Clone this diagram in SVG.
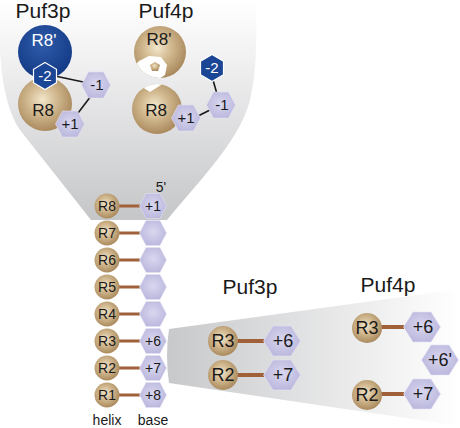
<svg xmlns="http://www.w3.org/2000/svg" width="460" height="428" viewBox="0 0 460 428">
<style>
text{font-family:"Liberation Sans",Arial,sans-serif;fill:#1a1a1a;text-anchor:middle}
.t{font-size:21px}
.s{font-size:14px}
.h{font-size:15px}
.m{font-size:17px}
.l{font-size:18px}
.w{fill:#ffffff}
.tan{fill:url(#gTan)}
.hex{fill:url(#gHex);stroke:#e4e2f3;stroke-width:0.6}
.bhex{fill:#1b4696;stroke:#ffffff;stroke-width:1.2}
.bond{stroke:#a0603a;stroke-width:3;fill:none}
.bondL{stroke:#a0603a;stroke-width:4;fill:none}
.link{stroke:#1a1a1a;stroke-width:1.6;fill:none}
</style>
<defs>
<linearGradient id="gFunnel" gradientUnits="userSpaceOnUse" x1="0" y1="0" x2="0" y2="220">
<stop offset="0" stop-color="#ffffff"/>
<stop offset="0.25" stop-color="#f2f2f3"/>
<stop offset="1" stop-color="#c5c6c8"/>
</linearGradient>
<linearGradient id="gWedge" gradientUnits="userSpaceOnUse" x1="169" y1="0" x2="460" y2="0">
<stop offset="0" stop-color="#c8c9cb"/>
<stop offset="1" stop-color="#ffffff"/>
</linearGradient>
<radialGradient id="gTan" cx="0.45" cy="0.42" r="0.6">
<stop offset="0" stop-color="#f2e7cc"/>
<stop offset="0.4" stop-color="#d5bd95"/>
<stop offset="1" stop-color="#a8875a"/>
</radialGradient>
<radialGradient id="gBlue" cx="0.45" cy="0.35" r="0.65">
<stop offset="0" stop-color="#2f5caa"/>
<stop offset="1" stop-color="#133a85"/>
</radialGradient>
<radialGradient id="gHex" cx="0.5" cy="0.45" r="0.6">
<stop offset="0" stop-color="#d9d7ef"/>
<stop offset="1" stop-color="#b8b5dc"/>
</radialGradient>
<polygon id="hx" points="13.5,0 7,12.5 -7,12.5 -13.5,0 -7,-12.5 7,-12.5"/>
<polygon id="hxT" points="14.5,0 7.5,13 -7.5,13 -14.5,0 -7.5,-13 7.5,-13"/>
<polygon id="hxL" points="18.5,0 9,15 -9,15 -18.5,0 -9,-15 9,-15"/>
<polygon id="hxB" points="0,-13.5 11.5,-6.7 11.5,6.7 0,13.5 -11.5,6.7 -11.5,-6.7"/>
<clipPath id="cR8p"><circle cx="160" cy="52" r="26"/></clipPath>
<clipPath id="cR8"><circle cx="157" cy="109" r="25"/></clipPath>
</defs>

<g id="backgrounds">
<path d="M0,0 L0,50 C2,90 10,115 20,130 L91,220 L167,220 C200,180 240,140 250,100 C256,75 257,45 256,0 Z" fill="url(#gFunnel)"/>
<path d="M169,329 L460,289 L460,426 L169,383 Q165,356 169,329 Z" fill="url(#gWedge)"/>
</g>

<g id="titles">
<text class="t" x="43" y="18">Puf3p</text>
<text class="t" x="166" y="18">Puf4p</text>
<text class="t" x="250" y="294">Puf3p</text>
<text class="t" x="388" y="292">Puf4p</text>
</g>

<g id="connectors">
<line class="link" x1="55" y1="76" x2="88" y2="83"/>
<line class="link" x1="91" y1="96" x2="75" y2="117"/>
<line class="link" x1="213" y1="80" x2="217" y2="94"/>
<line class="link" x1="198" y1="116" x2="210" y2="110"/>
<g id="column-bonds">
<line class="bond" x1="119" y1="206" x2="140" y2="206"/>
<line class="bond" x1="119" y1="233" x2="140" y2="233"/>
<line class="bond" x1="119" y1="260" x2="140" y2="260"/>
<line class="bond" x1="119" y1="287" x2="140" y2="287"/>
<line class="bond" x1="119" y1="314" x2="140" y2="314"/>
<line class="bond" x1="119" y1="341" x2="140" y2="341"/>
<line class="bond" x1="119" y1="368" x2="140" y2="368"/>
<line class="bond" x1="119" y1="395" x2="140" y2="395"/>
</g>
<line class="bondL" x1="237" y1="341" x2="264" y2="341"/>
<line class="bondL" x1="237" y1="375" x2="264" y2="375"/>
<line class="bondL" x1="381" y1="327" x2="404" y2="327"/>
<line class="bondL" x1="381" y1="394" x2="404" y2="394"/>
</g>

<g id="puf3p-top">
<g id="p3-R8prime"><circle cx="45" cy="52" r="27" fill="url(#gBlue)"/><text class="m w" x="44" y="46">R8'</text></g>
<g id="p3-R8"><circle cx="45" cy="104" r="27" class="tan"/><text class="m" x="43" y="116">R8</text></g>
<g id="p3-m2"><use href="#hxB" x="45" y="76" class="bhex"/><text class="h w" x="45" y="81">-2</text></g>
<g id="p3-m1"><use href="#hxT" x="96" y="85" class="hex"/><text class="h" x="97" y="90">-1</text></g>
<g id="p3-p1"><use href="#hxT" x="70" y="124" class="hex"/><text class="h" x="70" y="129">+1</text></g>
</g>

<g id="puf4p-top">
<g id="p4-R8prime">
<circle cx="160" cy="52" r="26" class="tan"/>
<polygon clip-path="url(#cR8p)" points="139,61 149,56 161,57 167,65 165,75 156,81 134,84 131,70" fill="#ffffff"/>
<polygon points="155,62 160,65 158,71 152,71 150,65" class="tan"/>
<text class="m" x="159" y="45">R8'</text>
</g>
<g id="p4-R8">
<circle cx="157" cy="109" r="25" class="tan"/>
<polygon clip-path="url(#cR8)" points="128,78 150,92 172,78" fill="#ffffff"/>
<text class="m" x="156" y="116">R8</text>
</g>
<g id="p4-m2"><use href="#hxB" x="212" y="68" class="bhex"/><text class="h w" x="212" y="73">-2</text></g>
<g id="p4-m1"><use href="#hxT" x="221" y="105" class="hex"/><text class="h" x="222" y="110">-1</text></g>
<g id="p4-p1"><use href="#hxT" x="186" y="118" class="hex"/><text class="h" x="186" y="123">+1</text></g>
</g>

<g id="helix-column">
<text class="s" x="161" y="192">5'</text>
<g id="c-R8"><circle cx="107" cy="206" r="12.5" class="tan"/><text class="s" x="107" y="211">R8</text><use href="#hx" x="153" y="206" class="hex"/><text class="s" x="153" y="211">+1</text></g>
<g id="c-R7"><circle cx="107" cy="233" r="12.5" class="tan"/><text class="s" x="107" y="238">R7</text><use href="#hx" x="153" y="233" class="hex"/></g>
<g id="c-R6"><circle cx="107" cy="260" r="12.5" class="tan"/><text class="s" x="107" y="265">R6</text><use href="#hx" x="153" y="260" class="hex"/></g>
<g id="c-R5"><circle cx="107" cy="287" r="12.5" class="tan"/><text class="s" x="107" y="292">R5</text><use href="#hx" x="153" y="287" class="hex"/></g>
<g id="c-R4"><circle cx="107" cy="314" r="12.5" class="tan"/><text class="s" x="107" y="319">R4</text><use href="#hx" x="153" y="314" class="hex"/></g>
<g id="c-R3"><circle cx="107" cy="341" r="12.5" class="tan"/><text class="s" x="107" y="346">R3</text><use href="#hx" x="153" y="341" class="hex"/><text class="s" x="153" y="346">+6</text></g>
<g id="c-R2"><circle cx="107" cy="368" r="12.5" class="tan"/><text class="s" x="107" y="373">R2</text><use href="#hx" x="153" y="368" class="hex"/><text class="s" x="153" y="373">+7</text></g>
<g id="c-R1"><circle cx="107" cy="395" r="12.5" class="tan"/><text class="s" x="107" y="400">R1</text><use href="#hx" x="153" y="395" class="hex"/><text class="s" x="153" y="400">+8</text></g>
<text font-size="14" x="107" y="425">helix</text>
<text font-size="14" x="153" y="425">base</text>
</g>

<g id="puf3p-detail">
<g id="d3-R3"><circle cx="223" cy="341" r="15" class="tan"/><text class="l" x="223" y="347">R3</text></g>
<g id="d3-p6"><use href="#hxL" x="282" y="341" class="hex"/><text class="l" x="283" y="347">+6</text></g>
<g id="d3-R2"><circle cx="223" cy="375" r="15" class="tan"/><text class="l" x="223" y="381">R2</text></g>
<g id="d3-p7"><use href="#hxL" x="282" y="375" class="hex"/><text class="l" x="283" y="381">+7</text></g>
</g>

<g id="puf4p-detail">
<g id="d4-R3"><circle cx="367" cy="328" r="15" class="tan"/><text class="l" x="367" y="334">R3</text></g>
<g id="d4-p6"><use href="#hxL" x="422" y="327" class="hex"/><text class="l" x="423" y="333">+6</text></g>
<g id="d4-p6p"><use href="#hxL" x="440" y="360" class="hex"/><text class="l" x="440" y="366">+6'</text></g>
<g id="d4-R2"><circle cx="367" cy="395" r="15" class="tan"/><text class="l" x="367" y="401">R2</text></g>
<g id="d4-p7"><use href="#hxL" x="422" y="394" class="hex"/><text class="l" x="423" y="400">+7</text></g>
</g>
</svg>
